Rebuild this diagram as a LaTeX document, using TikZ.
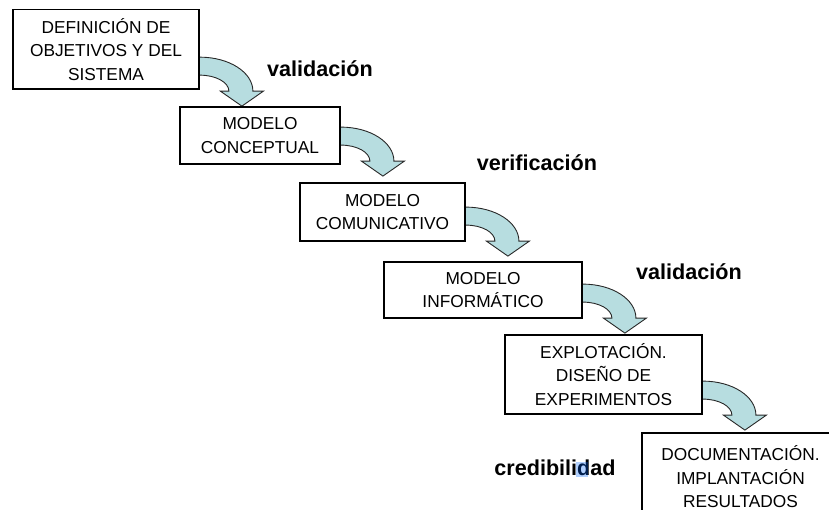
\documentclass[tikz,border=0pt]{standalone}
\usepackage{fontspec}
\setmainfont{Liberation Sans}
\usetikzlibrary{backgrounds,calc}
\definecolor{arrowfill}{RGB}{183,221,224}
\definecolor{edgegray}{RGB}{40,40,40}
\begin{document}
\begin{tikzpicture}[x=1pt,y=-1pt,
  box/.style={draw=black, line width=1.8pt, fill=white, inner sep=0pt, align=center,
    font=\fontsize{17.3}{23.5}\selectfont},
  lbl/.style={font=\bfseries\fontsize{21.6}{26}\selectfont, anchor=base, inner sep=0pt},
  curvarrow/.pic={\filldraw[fill=arrowfill, draw=edgegray, line width=0.9pt, line join=miter]
    (-4,0) -- (0,0) .. controls (29.3,0) and (53,15.2) .. (53,34) -- (63.5,34) -- (42,49)
    -- (20.5,34) -- (29,34) .. controls (29,25.2) and (16,18) .. (0,18) -- (-4,18) -- cycle;}]
\useasboundingbox (0,0) rectangle (829,510);
\clip (0,0) rectangle (829,510);
\node[box, minimum width=186pt, minimum height=79.5pt] (b1) at (106,49.3) {DEFINICIÓN DE\\OBJETIVOS Y DEL\\SISTEMA};
\node[box, minimum width=160pt, minimum height=57pt] (b2) at (260,135.5) {MODELO\\CONCEPTUAL};
\node[box, minimum width=165pt, minimum height=58pt] (b3) at (382.5,212) {MODELO\\COMUNICATIVO};
\node[box, minimum width=198pt, minimum height=56pt] (b4) at (483,290) {MODELO\\INFORMÁTICO};
\node[box, minimum width=197pt, minimum height=79pt] (b5) at (603.5,374.5) {EXPLOTACIÓN.\\DISEÑO DE\\EXPERIMENTOS};
\node[box, minimum width=197pt, minimum height=88pt] (b6) at (740.5,477) {DOCUMENTACIÓN.\\IMPLANTACIÓN\\RESULTADOS};
\begin{scope}[on background layer]
\pic at ($(b1.north east)+(0,48.5)$) {curvarrow};
\pic at ($(b2.north east)+(0,21)$) {curvarrow};
\pic at ($(b3.north east)+(0,25)$) {curvarrow};
\pic at ($(b4.north east)+(0,23)$) {curvarrow};
\pic at ($(b5.north east)+(0,47)$) {curvarrow};
\end{scope}
\node[lbl] (v1) at (320,76.7) {validación};
\node[lbl] (v2) at (537,170.7) {verificación};
\node[lbl] (v3) at (689,279.7) {validación};
\node[lbl] (c1) at (555,475) {credibilidad};
\fill[blue!60!cyan, opacity=0.3] (576,462) rectangle (588,477);
\end{tikzpicture}
\end{document}
